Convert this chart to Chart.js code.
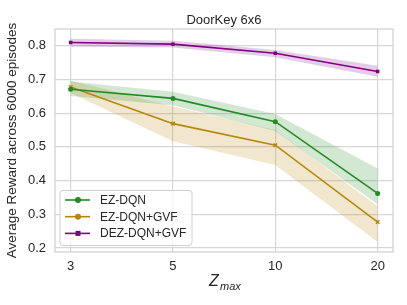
<!DOCTYPE html>
<html>
<head>
<meta charset="utf-8">
<script src="https://cdn.jsdelivr.net/npm/chart.js@4"></script>
<style>
  html, body { margin: 0; padding: 0; background: #fff; }
  #wrap { width: 407px; height: 305px; }
</style>
</head>
<body>
<div id="wrap"><canvas id="chart" width="407" height="305"></canvas></div>
<script>
// Z_max values (category positions on x)
const zLabels = ['3', '5', '10', '20'];

// EZ-DQN
const ezDqn   = [0.671, 0.644, 0.575, 0.362];
const ezDqnLo = [0.651, 0.624, 0.547, 0.330];
const ezDqnHi = [0.694, 0.664, 0.598, 0.436];

// EZ-DQN+GVF
const ezGvf   = [0.678, 0.569, 0.505, 0.277];
const ezGvfLo = [0.660, 0.517, 0.446, 0.218];
const ezGvfHi = [0.697, 0.620, 0.550, 0.324];

// DEZ-DQN+GVF
const dezGvf   = [0.810, 0.805, 0.778, 0.724];
const dezGvfLo = [0.798, 0.795, 0.766, 0.708];
const dezGvfHi = [0.821, 0.815, 0.788, 0.741];

const yTicks = [0.2, 0.3, 0.4, 0.5, 0.6, 0.7, 0.8];

const GREEN = '#228b22';
const GOLD = '#b8860b';
const PURPLE = '#800080';
const FONT = "'Liberation Sans', Arial, sans-serif";
const TXT = '#262626';

function pts(arr) {
    return arr.map(function (v, i) { return {x: i, y: v}; });
}

function band(hi, lo, color) {
    return [
        {data: pts(hi), borderWidth: 0, pointRadius: 0, fill: '+1', backgroundColor: color, order: 2},
        {data: pts(lo), borderWidth: 0, pointRadius: 0, fill: false, order: 2}
    ];
}

const series = [
    {label: 'EZ-DQN', data: ezDqn, color: GREEN, style: 'circle'},
    {label: 'EZ-DQN+GVF', data: ezGvf, color: GOLD, style: 'crossRot'},
    {label: 'DEZ-DQN+GVF', data: dezGvf, color: PURPLE, style: 'rect'}
];

var datasets = [];
datasets = datasets.concat(band(ezDqnHi, ezDqnLo, 'rgba(34,139,34,0.2)'));
datasets = datasets.concat(band(ezGvfHi, ezGvfLo, 'rgba(184,134,11,0.2)'));
datasets = datasets.concat(band(dezGvfHi, dezGvfLo, 'rgba(128,0,128,0.2)'));
series.forEach(function (s) {
    datasets.push({
        label: s.label,
        data: pts(s.data),
        borderColor: s.color,
        backgroundColor: s.color,
        borderWidth: 1.6,
        pointStyle: s.style,
        pointRadius: 2.5,
        pointBorderWidth: s.style === 'crossRot' ? 1.5 : 0,
        pointBorderColor: s.color,
        fill: false,
        order: 0
    });
});

// frame, title, legend box and subscript x title
const extras = {
    id: 'extras',
    afterDraw: function (chart) {
        const ctx = chart.ctx;
        const a = chart.chartArea;
        ctx.save();
        ctx.strokeStyle = '#cfcfcf';
        ctx.lineWidth = 1.2;
        ctx.strokeRect(a.left, a.top, a.right - a.left, a.bottom - a.top);

        // title, centred over the plot area
        ctx.fillStyle = TXT;
        ctx.font = '13px ' + FONT;
        ctx.textAlign = 'center';
        ctx.textBaseline = 'alphabetic';
        ctx.fillText('DoorKey 6x6', (a.left + a.right) / 2, 23.5);

        // legend
        const bx = 60, by = 190.5, bw = 132, bh = 55;
        ctx.fillStyle = 'rgba(255,255,255,0.8)';
        ctx.strokeStyle = '#d0d0d0';
        ctx.lineWidth = 1;
        ctx.beginPath();
        ctx.roundRect(bx, by, bw, bh, 3);
        ctx.fill();
        ctx.stroke();
        series.forEach(function (s, i) {
            const y = 200 + i * 16.7;
            ctx.strokeStyle = s.color;
            ctx.lineWidth = 1.6;
            ctx.beginPath();
            ctx.moveTo(65, y);
            ctx.lineTo(90, y);
            ctx.stroke();
            ctx.fillStyle = s.color;
            ctx.beginPath();
            if (s.style === 'rect') {
                ctx.rect(75.5, y - 2.5, 5, 5);
            } else {
                ctx.arc(78, y, 3, 0, Math.PI * 2);
            }
            ctx.fill();
            ctx.fillStyle = TXT;
            ctx.font = '12px ' + FONT;
            ctx.textBaseline = 'middle';
            ctx.textAlign = 'left';
            ctx.fillText(s.label, 100, y + 0.5);
        });

        // x title Z_max
        ctx.fillStyle = TXT;
        ctx.textBaseline = 'alphabetic';
        ctx.textAlign = 'left';
        ctx.font = 'italic 16px ' + FONT;
        ctx.fillText('Z', 209, 286);
        ctx.font = 'italic 11px ' + FONT;
        ctx.fillText('max', 220, 290);
        ctx.restore();
    }
};

new Chart(document.getElementById('chart'), {
    type: 'line',
    data: {datasets: datasets},
    plugins: [extras],
    options: {
        responsive: false,
        animation: false,
        layout: {padding: {left: 0, right: 14, top: 29, bottom: 0}},
        plugins: {
            legend: {display: false},
            tooltip: {enabled: false},
            title: {display: false}
        },
        scales: {
            x: {
                type: 'linear',
                min: -0.153,
                max: 3.15,
                afterFit: function (sc) { sc.height = 53; },
                grid: {color: '#d6d6d6', lineWidth: 1.2, drawTicks: false},
                border: {display: false},
                ticks: {
                    stepSize: 1,
                    includeBounds: false,
                    padding: 7,
                    color: TXT,
                    font: {family: FONT, size: 13},
                    callback: function (v) { return zLabels[v]; }
                }
            },
            y: {
                type: 'linear',
                min: 0.188,
                max: 0.85,
                afterFit: function (sc) { sc.width = 55; },
                afterBuildTicks: function (sc) {
                    sc.ticks = yTicks.map(function (v) { return {value: v}; });
                },
                grid: {color: '#d6d6d6', lineWidth: 1.2, drawTicks: false},
                border: {display: false},
                title: {
                    display: true,
                    text: 'Average Reward across 6000 episodes',
                    color: TXT,
                    font: {family: FONT, size: 13.5},
                    padding: {top: 4, bottom: 0}
                },
                ticks: {
                    padding: 9,
                    color: TXT,
                    font: {family: FONT, size: 13},
                    callback: function (v) { return v.toFixed(1); }
                }
            }
        }
    }
});
</script>
</body>
</html>
